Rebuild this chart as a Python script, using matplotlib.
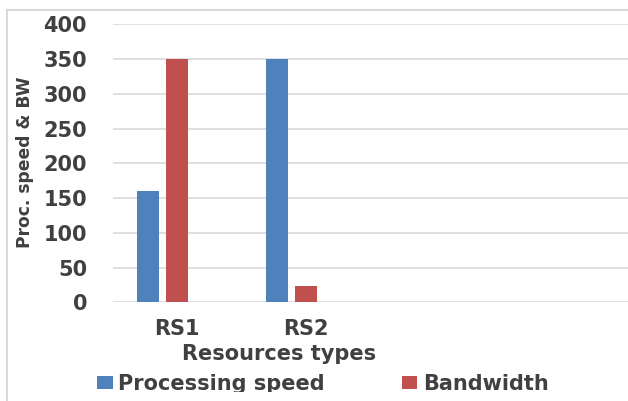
import numpy as np
import matplotlib
matplotlib.use("Agg")
import matplotlib.pyplot as plt
from matplotlib.patches import Rectangle
from matplotlib.lines import Line2D

W, H = 628, 401

resources = ["RS1", "RS2"]
series_names = ["Processing speed", "Bandwidth"]
processing_speed = [160, 350]
bandwidth = [350, 24]
y_ticks = [0, 50, 100, 150, 200, 250, 300, 350, 400]

BLUE = "#4F81BD"
RED = "#C0504D"
GRID = "#d9d9d9"
TEXT = "#404040"

plt.rcParams["font.family"] = ["DejaVu Sans"]
plt.rcParams["font.weight"] = "bold"


def fx(px):
    return px / W


def fy(py):
    return 1 - py / H


fig = plt.figure(figsize=(W / 100, H / 100), dpi=100)
ax = fig.add_axes([fx(112.7), fy(302.3), 1 - fx(112.7), (302.3 - 24.3) / H])

# each category has three bar slots, the first two are used
x = np.arange(len(resources))
width = 0.175
slot = 0.225
b1 = ax.bar(x - slot, processing_speed, width, color=BLUE, zorder=3)
b2 = ax.bar(x, bandwidth, width, color=RED, zorder=3)

ax.set_xlim(-0.5, 3.5)
ax.set_ylim(0, 400)
ax.set_yticks(y_ticks)
ax.set_xticks(x)
ax.set_xticklabels(resources)
ax.yaxis.grid(True, color=GRID, linewidth=1.2, zorder=0)
ax.set_axisbelow(True)
for s in ax.spines.values():
    s.set_visible(False)
ax.tick_params(axis="both", length=0, labelsize=15, labelcolor=TEXT)
ax.tick_params(axis="y", pad=18.5)
ax.tick_params(axis="x", pad=12)

# axis titles
fig.text(fx(25.5), fy(162.5), "Proc. speed & BW", rotation=90, ha="center",
         va="center", fontsize=12.3, color=TEXT, fontweight="bold")
fig.text(fx(279), fy(360), "Resources types", ha="center", va="baseline",
         fontsize=15, color=TEXT, fontweight="bold")

fig.legend([b1, b2], series_names, loc="center left",
           bbox_to_anchor=(fx(97.3), fy(384)), ncol=2, frameon=False,
           prop={"size": 15, "weight": "bold"}, labelcolor=TEXT,
           handlelength=0.74, handleheight=0.6, handletextpad=0.27,
           columnspacing=3.7, borderpad=0, borderaxespad=0)

# chart area border (clipped at the right and bottom)
fig.add_artist(Line2D([fx(6.5), fx(6.5)], [fy(9.5), 0], color=GRID, lw=1.5))
fig.add_artist(Line2D([fx(6.5), 1], [fy(9.5), fy(9.5)], color=GRID, lw=1.5))

# bottom strip cut off below the legend
fig.add_artist(Rectangle((fx(9), 0), 1, fy(391.5), transform=fig.transFigure,
                         facecolor="white", edgecolor="none", zorder=10))

fig.savefig("out.png", dpi=100)
